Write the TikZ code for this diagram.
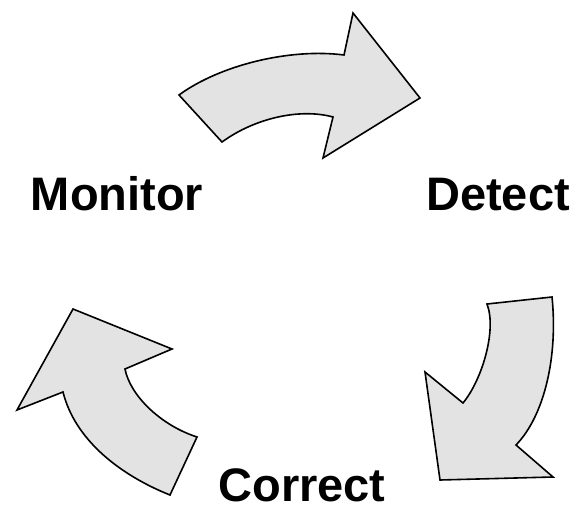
\documentclass[tikz,border=0pt]{standalone}
\usepackage{fontspec}
\setmainfont{Liberation Sans}
\begin{document}
\begin{tikzpicture}[x=1pt,y=-1pt,
  bigarrow/.style={draw=black,line width=1.6pt,fill=gray!22,line join=miter},
  label/.style={font=\bfseries\fontsize{47}{50}\selectfont,anchor=base,inner sep=0pt,text depth=0pt}]
\useasboundingbox (0,0) rectangle (578,508);
% top arrow (Monitor -> Detect)
\path[bigarrow] (179,95) -- (222,142)
  .. controls (255,118) and (300,108) .. (333,117)
  -- (323,158) -- (420,98) -- (353,13) -- (344,55)
  .. controls (290,48) and (220,65) .. (179,95) -- cycle;
% right arrow (Detect -> Correct)
\path[bigarrow] (487,304) -- (552,297)
  .. controls (558,355) and (545,415) .. (516,445)
  -- (553,477) -- (440,480) -- (425,372) -- (463,403)
  .. controls (482,380) and (497,330) .. (487,304) -- cycle;
% left arrow (Correct -> Monitor)
\path[bigarrow] (73,309) -- (172,349) -- (125,369)
  .. controls (130,395) and (160,425) .. (197,437)
  -- (170,495)
  .. controls (120,475) and (75,440) .. (63,392)
  -- (17,410) -- cycle;
\node[label] (monitor) at (117,210) {Monitor};
\node[label] (detect) at (498,210) {Detect};
\node[label] (correct) at (302,501) {Correct};
\end{tikzpicture}
\end{document}
